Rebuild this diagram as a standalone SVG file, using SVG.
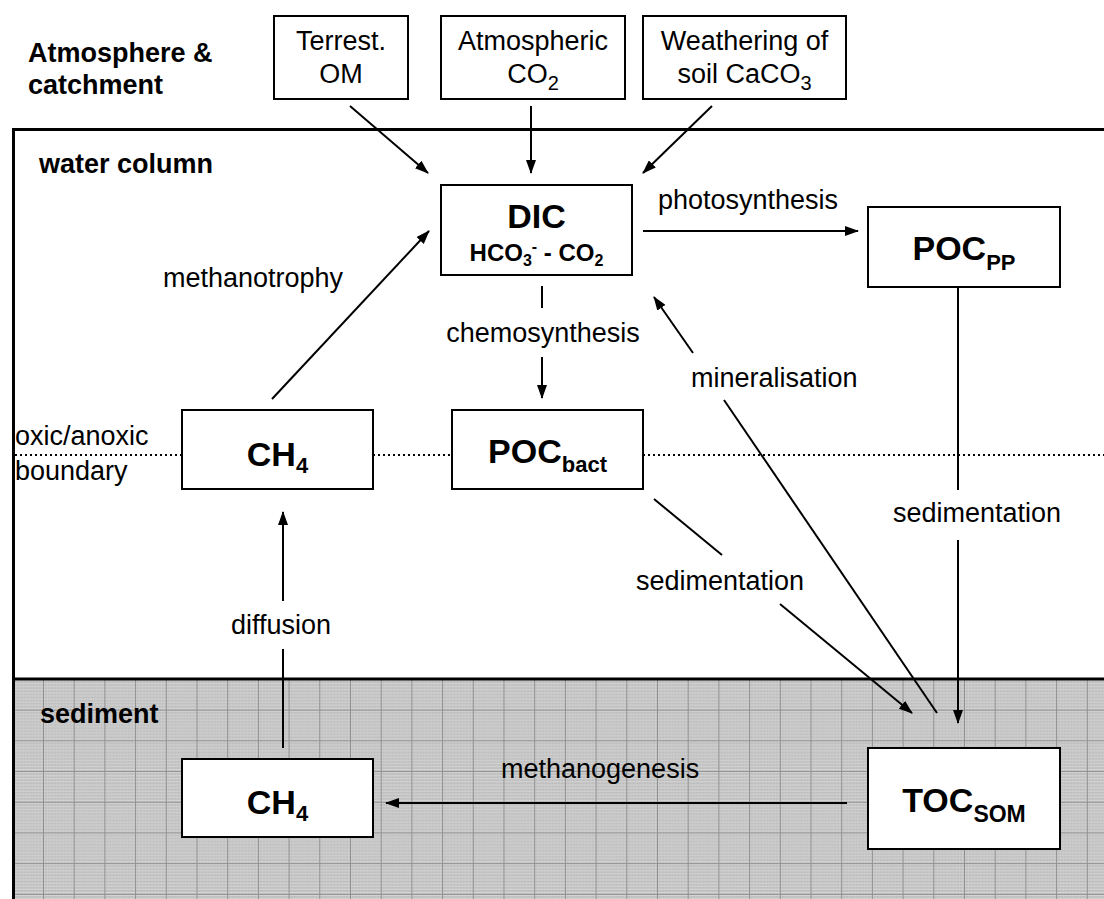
<svg xmlns="http://www.w3.org/2000/svg" width="1104" height="899" viewBox="0 0 1104 899">
<defs>
<style>
.box{fill:#fff;stroke:#000;stroke-width:2}
.t{font-family:"Liberation Sans",Arial,sans-serif;font-size:27px;fill:#000}
.b{font-family:"Liberation Sans",Arial,sans-serif;font-weight:bold;fill:#000}
.big{font-size:34px}
.sub{font-size:22px}
.ln{stroke:#000;stroke-width:2;fill:none}
.frame{stroke:#000;stroke-width:3;fill:none}
.dot{stroke:#000;stroke-width:2;stroke-dasharray:2 3;fill:none}
</style>
<marker id="ah" markerUnits="userSpaceOnUse" markerWidth="14" markerHeight="10" refX="13" refY="5" orient="auto" viewBox="0 0 14 10">
<path d="M0,0 L14,5 L0,10 z" fill="#000"/>
</marker>
<pattern id="sed" patternUnits="userSpaceOnUse" x="12.3" y="679" width="30.7" height="30.7">
<rect width="30.7" height="30.7" fill="#bdbdbd"/>
<path d="M1.5 0V30.7M4.6 0V30.7M7.7 0V30.7M10.7 0V30.7M13.8 0V30.7M16.9 0V30.7M20 0V30.7M23 0V30.7M26.1 0V30.7M29.2 0V30.7" stroke="#c8c8c8" stroke-width="1"/>
<path d="M0 1.5H30.7M0 4.6H30.7M0 7.7H30.7M0 10.7H30.7M0 13.8H30.7M0 16.9H30.7M0 20H30.7M0 23H30.7M0 26.1H30.7M0 29.2H30.7" stroke="#d6d6d6" stroke-width="1"/>
<path d="M0.5 0V30.7M0 0.5H30.7" stroke="#909090" stroke-width="1"/>
</pattern>
</defs>

<g id="background">
<rect x="0" y="0" width="1104" height="899" fill="#fff"/>
<rect x="14" y="680" width="1090" height="219" fill="url(#sed)"/>
<path class="frame" d="M13.5 899V129.5H1104"/>
<line class="frame" x1="13" y1="679" x2="1104" y2="679"/>
<path class="dot" d="M15 455H182M373 455H452M643 455H1104"/>
</g>

<g id="zone-labels">
<text class="b" font-size="27" x="28" y="62">Atmosphere &amp;</text>
<text class="b" font-size="27" x="28" y="94">catchment</text>
<text class="b" font-size="27" x="39" y="173">water column</text>
<text class="b" font-size="27" x="40" y="723">sediment</text>
<text class="t" x="15" y="445">oxic/anoxic</text>
<text class="t" x="15" y="480">boundary</text>
</g>

<g id="connectors">
<line class="ln" x1="350" y1="106" x2="428" y2="173" marker-end="url(#ah)"/>
<line class="ln" x1="531" y1="106" x2="531" y2="173" marker-end="url(#ah)"/>
<line class="ln" x1="712" y1="106" x2="643" y2="173" marker-end="url(#ah)"/>
<line class="ln" x1="643" y1="231" x2="858" y2="231" marker-end="url(#ah)"/>
<line class="ln" x1="272" y1="399" x2="429" y2="231" marker-end="url(#ah)"/>
<line class="ln" x1="542" y1="286" x2="542" y2="308"/>
<line class="ln" x1="542" y1="357" x2="542" y2="398" marker-end="url(#ah)"/>
<line class="ln" x1="937" y1="713" x2="724" y2="400"/>
<line class="ln" x1="693" y1="353" x2="654" y2="297" marker-end="url(#ah)"/>
<line class="ln" x1="654" y1="499" x2="722" y2="555"/>
<line class="ln" x1="780" y1="604" x2="912" y2="713" marker-end="url(#ah)"/>
<line class="ln" x1="958" y1="287" x2="958" y2="490"/>
<line class="ln" x1="958" y1="540" x2="958" y2="723" marker-end="url(#ah)"/>
<line class="ln" x1="283" y1="748" x2="283" y2="649"/>
<line class="ln" x1="283" y1="601" x2="283" y2="512" marker-end="url(#ah)"/>
<line class="ln" x1="847" y1="803" x2="386" y2="803" marker-end="url(#ah)"/>
<text class="t" x="658" y="209">photosynthesis</text>
<text class="t" x="163" y="287">methanotrophy</text>
<text class="t" x="543" y="342" text-anchor="middle">chemosynthesis</text>
<text class="t" x="691" y="387">mineralisation</text>
<text class="t" x="893" y="522">sedimentation</text>
<text class="t" x="636" y="590">sedimentation</text>
<text class="t" x="281" y="634" text-anchor="middle">diffusion</text>
<text class="t" x="501" y="778">methanogenesis</text>
</g>

<g id="node-terrest">
<rect class="box" x="274" y="16" width="134" height="83"/>
<text class="t" x="341" y="50" text-anchor="middle">Terrest.</text>
<text class="t" x="341" y="83" text-anchor="middle">OM</text>
</g>

<g id="node-atmco2">
<rect class="box" x="441" y="16" width="184" height="83"/>
<text class="t" x="533" y="50" text-anchor="middle">Atmospheric</text>
<text class="t" x="533" y="83" text-anchor="middle">CO<tspan font-size="20" dy="7">2</tspan></text>
</g>

<g id="node-weathering">
<rect class="box" x="643" y="16" width="203" height="83"/>
<text class="t" x="744.5" y="50" text-anchor="middle">Weathering of</text>
<text class="t" x="744.5" y="83" text-anchor="middle">soil CaCO<tspan font-size="20" dy="7">3</tspan></text>
</g>

<g id="node-dic">
<rect class="box" x="441" y="185" width="191" height="90"/>
<text class="b big" x="536.5" y="228" text-anchor="middle">DIC</text>
<text class="b" font-size="24" x="536.5" y="261" text-anchor="middle">HCO<tspan font-size="16" dy="5">3</tspan><tspan font-size="16" dy="-14">-</tspan><tspan dy="9"> - CO</tspan><tspan font-size="16" dy="5">2</tspan></text>
</g>

<g id="node-pocpp">
<rect class="box" x="868" y="207" width="192" height="80"/>
<text class="b big" x="964" y="260" text-anchor="middle">POC<tspan class="sub" dy="10">PP</tspan></text>
</g>

<g id="node-ch4-upper">
<rect class="box" x="182" y="410" width="191" height="79"/>
<text class="b big" x="277.5" y="466" text-anchor="middle">CH<tspan class="sub" dy="7">4</tspan></text>
</g>

<g id="node-pocbact">
<rect class="box" x="452" y="410" width="191" height="79"/>
<text class="b big" x="547.5" y="463" text-anchor="middle">POC<tspan class="sub" dy="9">bact</tspan></text>
</g>

<g id="node-toc">
<rect class="box" x="868" y="748" width="192" height="101"/>
<text class="b big" x="964" y="812" text-anchor="middle">TOC<tspan font-size="23" dy="10">SOM</tspan></text>
</g>

<g id="node-ch4-lower">
<rect class="box" x="182" y="759" width="191" height="78"/>
<text class="b big" x="277.5" y="814" text-anchor="middle">CH<tspan class="sub" dy="7">4</tspan></text>
</g>
</svg>
